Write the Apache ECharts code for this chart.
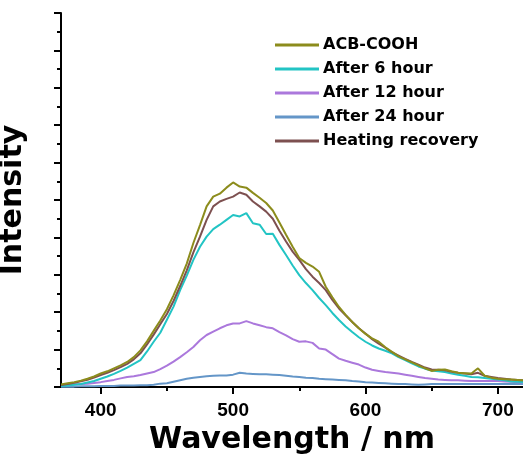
<!DOCTYPE html>
<html>
<head>
<meta charset="utf-8">
<script src="https://cdn.jsdelivr.net/npm/echarts@6/dist/echarts.min.js"></script>
<style>
html,body{margin:0;padding:0;background:#fff;}
#chart{width:523px;height:461px;}
</style>
</head>
<body>
<div id="chart"></div>
<script>
// Wavelengths (nm), 370..720 step 5
const wavelengths = [370,375,380,385,390,395,400,405,410,415,420,425,430,435,440,445,450,455,460,465,470,475,480,485,490,495,500,505,510,515,520,525,530,535,540,545,550,555,560,565,570,575,580,585,590,595,600,605,610,615,620,625,630,635,640,645,650,655,660,665,670,675,680,685,690,695,700,705,710,715,720];

const seriesNames = ["ACB-COOH","After 6 hour","After 12 hour","After 24 hour","Heating recovery"];

const acbCOOH = [0.07,0.10,0.13,0.17,0.22,0.28,0.36,0.42,0.50,0.58,0.67,0.80,0.98,1.22,1.50,1.78,2.08,2.45,2.86,3.30,3.85,4.33,4.83,5.09,5.17,5.33,5.47,5.36,5.33,5.19,5.06,4.92,4.72,4.40,4.07,3.75,3.45,3.32,3.22,3.08,2.68,2.40,2.14,1.93,1.74,1.57,1.42,1.30,1.21,1.06,0.94,0.82,0.74,0.66,0.58,0.50,0.43,0.46,0.47,0.42,0.38,0.37,0.36,0.50,0.30,0.25,0.22,0.21,0.20,0.19,0.18];

const after6h = [0.03,0.04,0.06,0.08,0.12,0.16,0.22,0.28,0.35,0.43,0.52,0.62,0.72,0.95,1.21,1.45,1.80,2.15,2.59,2.98,3.40,3.75,4.02,4.22,4.34,4.47,4.60,4.56,4.65,4.38,4.34,4.09,4.10,3.80,3.53,3.25,2.99,2.78,2.59,2.38,2.19,1.98,1.79,1.62,1.47,1.33,1.21,1.11,1.03,0.97,0.90,0.80,0.72,0.63,0.55,0.49,0.44,0.42,0.40,0.36,0.33,0.30,0.27,0.26,0.24,0.22,0.20,0.18,0.15,0.14,0.13];

const after12h = [0.05,0.06,0.07,0.08,0.09,0.11,0.13,0.16,0.19,0.23,0.27,0.29,0.32,0.36,0.40,0.48,0.57,0.68,0.80,0.93,1.07,1.25,1.39,1.48,1.57,1.65,1.70,1.70,1.76,1.70,1.65,1.60,1.57,1.47,1.38,1.28,1.21,1.22,1.18,1.03,1.00,0.88,0.76,0.70,0.65,0.60,0.52,0.46,0.43,0.40,0.38,0.36,0.33,0.30,0.27,0.24,0.22,0.20,0.19,0.18,0.18,0.17,0.16,0.16,0.16,0.16,0.16,0.15,0.14,0.13,0.13];

const after24h = [0.01,0.01,0.01,0.02,0.02,0.02,0.03,0.03,0.03,0.04,0.04,0.04,0.05,0.05,0.06,0.09,0.10,0.14,0.18,0.22,0.25,0.27,0.29,0.30,0.31,0.31,0.33,0.38,0.36,0.35,0.34,0.34,0.33,0.32,0.30,0.28,0.27,0.25,0.24,0.22,0.21,0.20,0.19,0.18,0.16,0.15,0.13,0.12,0.11,0.10,0.09,0.08,0.08,0.07,0.06,0.07,0.08,0.08,0.08,0.08,0.08,0.08,0.08,0.08,0.08,0.08,0.08,0.08,0.08,0.08,0.08];

const heatingRecovery = [0.05,0.08,0.11,0.15,0.19,0.25,0.32,0.38,0.45,0.53,0.62,0.74,0.90,1.14,1.40,1.68,1.95,2.30,2.70,3.12,3.60,4.02,4.47,4.83,4.96,5.03,5.09,5.20,5.14,4.96,4.83,4.69,4.50,4.18,3.89,3.62,3.40,3.15,2.95,2.78,2.59,2.33,2.10,1.92,1.74,1.57,1.43,1.28,1.16,1.05,0.93,0.84,0.75,0.67,0.60,0.52,0.47,0.46,0.45,0.41,0.38,0.36,0.34,0.38,0.30,0.27,0.24,0.22,0.20,0.19,0.18];

const xMajorTicks = [400,500,600,700];
const xMinorTicks = [450,550,650];

const colors = {
  "ACB-COOH": "#8c8c1c",
  "After 6 hour": "#22c4c4",
  "After 12 hour": "#ab78dc",
  "After 24 hour": "#6496c8",
  "Heating recovery": "#7d5050"
};

function pairs(vals){ return wavelengths.map((w,i)=>[w, vals[i]]); }

const valuesByName = {
  "ACB-COOH": acbCOOH,
  "After 6 hour": after6h,
  "After 12 hour": after12h,
  "After 24 hour": after24h,
  "Heating recovery": heatingRecovery
};
// drawing order (bottom to top)
const drawOrder = ["After 24 hour","After 12 hour","After 6 hour","Heating recovery","ACB-COOH"];

const XMIN = 370, XMAX = 719;

const chart = echarts.init(document.getElementById('chart'), null, {renderer:'canvas'});
chart.setOption({
  animation: false,
  backgroundColor: '#fff',
  grid: {left: 61, top: 13, right: 0, bottom: 74, containLabel: false, outerBoundsMode: 'none'},
  legend: {
    orient: 'vertical',
    left: 270,
    top: 32,
    data: seriesNames,
    icon: 'rect',
    itemWidth: 44,
    itemHeight: 3,
    itemGap: 8,
    textStyle: {fontFamily: 'DejaVu Sans', fontWeight: 'bold', fontSize: 16, color: '#000', padding: [0,0,0,-1]}
  },
  xAxis: [
    {
      type: 'value', min: XMIN, max: XMAX, position: 'bottom',
      name: 'Wavelength / nm', nameLocation: 'middle', nameGap: 36,
      nameTextStyle: {fontFamily: 'DejaVu Sans', fontWeight: 'bold', fontSize: 30, color: '#000'},
      axisLine: {show: true, onZero: false, lineStyle: {color: '#000', width: 2}},
      axisTick: {show: true, inside: false, length: 7, lineStyle: {color: '#000', width: 2}, customValues: xMajorTicks},
      axisLabel: {show: true, margin: 14, fontFamily: 'Liberation Sans', fontWeight: 'bold', fontSize: 19, color: '#000', customValues: xMajorTicks},
      splitLine: {show: false}
    },
    {
      type: 'value', min: XMIN, max: XMAX, position: 'top',
      axisLine: {show: true, lineStyle: {color: '#000', width: 2}},
      axisTick: {show: false}, axisLabel: {show: false}, splitLine: {show: false}
    },
    {
      type: 'value', min: XMIN, max: XMAX, position: 'bottom',
      axisLine: {show: false},
      axisTick: {show: true, inside: false, length: 4, lineStyle: {color: '#000', width: 2}, customValues: xMinorTicks},
      axisLabel: {show: false}, splitLine: {show: false}
    }
  ],
  yAxis: {
    type: 'value', min: 0, max: 10, interval: 1,
    name: 'Intensity', nameLocation: 'middle', nameGap: 33, nameRotate: 90,
    nameTextStyle: {fontFamily: 'DejaVu Sans', fontWeight: 'bold', fontSize: 30, color: '#000'},
    axisLine: {show: true, onZero: false, lineStyle: {color: '#000', width: 2}},
    axisTick: {show: true, inside: false, length: 7, lineStyle: {color: '#000', width: 2}},
    minorTick: {show: true, splitNumber: 2, length: 4, lineStyle: {color: '#000', width: 2}},
    axisLabel: {show: false},
    splitLine: {show: false},
    minorSplitLine: {show: false}
  },
  series: drawOrder.map(name => ({
    name: name,
    type: 'line',
    xAxisIndex: 0,
    data: pairs(valuesByName[name]),
    symbol: 'none',
    smooth: false,
    lineStyle: {color: colors[name], width: 2},
    itemStyle: {color: colors[name]}
  }))
});
</script>
</body>
</html>
